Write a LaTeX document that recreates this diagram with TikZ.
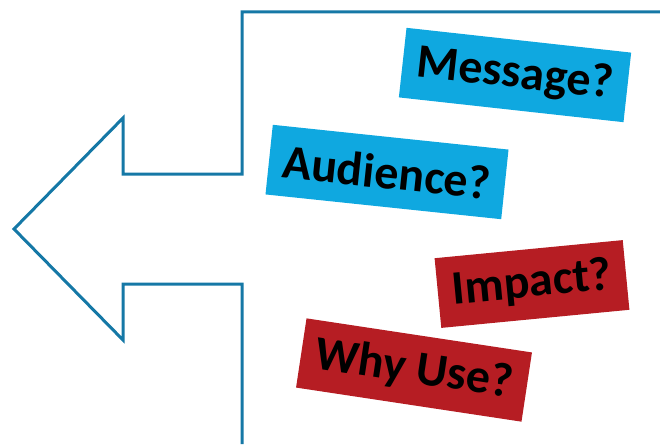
\documentclass[tikz,border=0pt]{standalone}
\usepackage{fontspec}
\setmainfont{Carlito}
\definecolor{arrowblue}{RGB}{21,120,166}
\definecolor{boxblue}{RGB}{15,168,224}
\definecolor{boxred}{RGB}{182,29,35}
\begin{document}
\begin{tikzpicture}[x=1pt,y=-1pt,
  qbox/.style={minimum height=70pt,inner sep=0pt,font=\bfseries\fontsize{48}{48}\selectfont,text=black},
  outline/.style={draw=arrowblue,line width=3pt,line join=miter}]
\useasboundingbox (0,0) rectangle (660,444);
\coordinate (s0) at (242,444);
\coordinate (s1) at (242,284);
\coordinate (s2) at (123,284);
\coordinate (s3) at (123,340);
\coordinate (tip) at (14,229);
\coordinate (s4) at (123,118);
\coordinate (s5) at (123,174);
\coordinate (s6) at (242,174);
\coordinate (s7) at (242,12);
\coordinate (s8) at (662,12);
\draw[outline] (s0) -- (s1) -- (s2) -- (s3) -- (tip) -- (s4) -- (s5) -- (s6) -- (s7) -- (s8);
\node[qbox,fill=boxblue,minimum width=226pt,rotate=-6.3] (msg) at (515,75) {Message?};
\node[qbox,fill=boxblue,minimum width=237pt,rotate=-6] (aud) at (387,172) {Audience?};
\node[qbox,fill=boxred,minimum width=189pt,rotate=5.5] (imp) at (532,284) {Impact?};
\node[qbox,fill=boxred,minimum width=228pt,rotate=-8.6] (why) at (414,370) {Why Use?};
\end{tikzpicture}
\end{document}
